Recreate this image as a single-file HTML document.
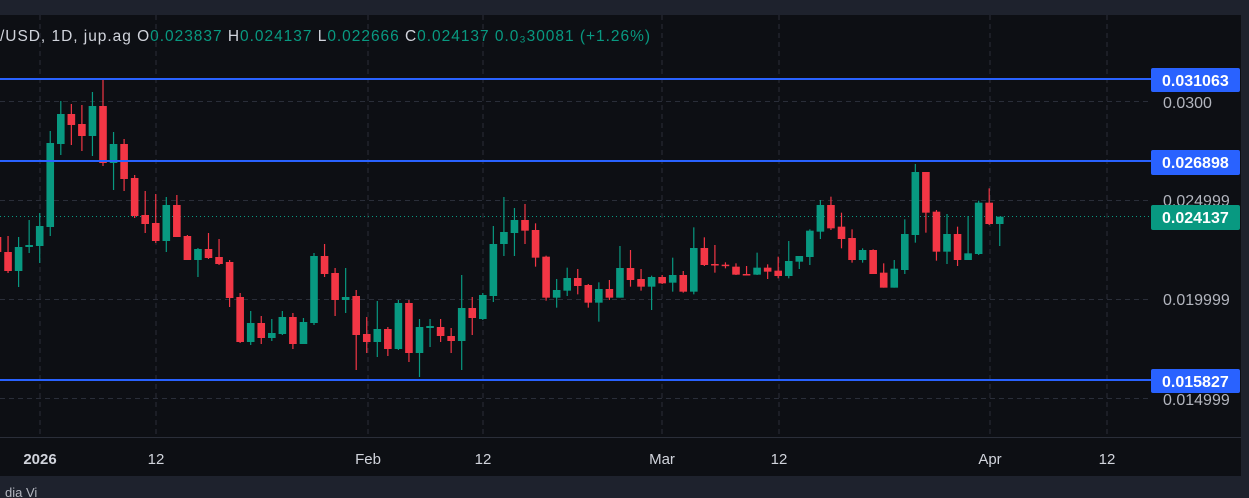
<!DOCTYPE html>
<html><head><meta charset="utf-8"><style>
html,body{margin:0;padding:0;background:#1e222d;width:1249px;height:498px;overflow:hidden}
svg{display:block;font-family:"Liberation Sans",sans-serif}
</style></head><body>
<svg id="c" width="1249" height="498" xmlns="http://www.w3.org/2000/svg">
<rect x="0" y="0" width="1249" height="498" fill="#1e222d"/>
<rect x="0" y="15" width="1241" height="461" fill="#0d0f14"/>
<line x1="0" y1="437.5" x2="1241" y2="437.5" stroke="#2a2e39"/>
<g stroke="#2a2e39" stroke-dasharray="5,4">
<line x1="40" y1="15" x2="40" y2="437"/><line x1="156" y1="15" x2="156" y2="437"/>
<line x1="368" y1="15" x2="368" y2="437"/><line x1="483" y1="15" x2="483" y2="437"/>
<line x1="662" y1="15" x2="662" y2="437"/><line x1="779" y1="15" x2="779" y2="437"/>
<line x1="990" y1="15" x2="990" y2="437"/><line x1="1107" y1="15" x2="1107" y2="437"/>
<line x1="0" y1="101.5" x2="1150" y2="101.5"/><line x1="0" y1="200.5" x2="1150" y2="200.5"/>
<line x1="0" y1="299.5" x2="1150" y2="299.5"/><line x1="0" y1="398.5" x2="1150" y2="398.5"/>
</g>
<line x1="0" y1="216.5" x2="1150" y2="216.5" stroke="#089981" stroke-dasharray="1,3"/>
<g id="cs"></g>
<g stroke="#2962ff" stroke-width="2">
<line x1="0" y1="79" x2="1151" y2="79"/><line x1="0" y1="161" x2="1151" y2="161"/><line x1="0" y1="380" x2="1151" y2="380"/>
</g>
<g font-size="16" fill="#b2b5be">
<text x="1163" y="108">0.0300</text><text x="1163" y="206">0.024999</text>
<text x="1163" y="305">0.019999</text><text x="1163" y="405">0.014999</text>
</g>
<rect x="1151" y="68" width="89" height="24" rx="2" fill="#2962ff"/>
<rect x="1151" y="150" width="89" height="25" rx="2" fill="#2962ff"/>
<rect x="1151" y="369" width="89" height="24" rx="2" fill="#2962ff"/>
<rect x="1151" y="205" width="89" height="25" rx="2" fill="#089981"/>
<g font-size="16" font-weight="bold" fill="#fff">
<text x="1162" y="86">0.031063</text><text x="1162" y="168">0.026898</text>
<text x="1162" y="223">0.024137</text><text x="1162" y="387">0.015827</text>
</g>
<g font-size="15" fill="#d1d4dc" text-anchor="middle">
<text x="40" y="464" font-weight="bold">2026</text><text x="156" y="464">12</text>
<text x="368" y="464">Feb</text><text x="483" y="464">12</text>
<text x="662" y="464">Mar</text><text x="779" y="464">12</text>
<text x="990" y="464">Apr</text><text x="1107" y="464">12</text>
</g>
<text x="0" y="41" font-size="15.5" fill="#d1d4dc" textLength="650" lengthAdjust="spacing">/USD, 1D, jup.ag  O<tspan fill="#089981">0.023837</tspan>  H<tspan fill="#089981">0.024137</tspan>  L<tspan fill="#089981">0.022666</tspan>  C<tspan fill="#089981">0.024137</tspan>  <tspan fill="#089981">0.0₃30081 (+1.26%)</tspan></text>
<text x="5" y="497" font-size="13" fill="#b2b5be">dia Vi</text>
</svg>
<script>
var A=[[237,252,235,254,'r'],
[252,271,236,273,'r'],[247,271,237,287,'g'],[245,247,220,253,'g'],[226,246,213,263,'g'],[143,227,131,236,'g'],
[114,144,101,155,'g'],[114,125,104,145,'r'],[124,136,105,151,'r'],[106,136,92,156,'g'],[106,163,80,166,'r'],
[144,163,132,190,'g'],[144,179,139,191,'r'],[178,216,175,218,'r'],[215,224,191,233,'r'],[223,241,194,243,'r'],
[205,241,197,252,'g'],[205,237,195,237,'r'],[236,260,235,260,'r'],[249,260,248,277,'g'],[249,258,233,259,'r'],
[257,264,239,265,'r'],[262,298,260,307,'r'],[297,342,293,343,'r'],[323,342,311,345,'g'],[323,338,316,344,'r'],
[333,338,319,341,'g'],[317,334,311,335,'g'],[317,344,313,349,'r'],[322,344,318,344,'g'],[256,323,253,325,'g'],
[256,274,244,277,'r'],[273,300,268,316,'r'],[297,300,268,313,'g'],[296,335,290,370,'r'],[334,342,317,353,'r'],
[329,342,301,357,'g'],[329,349,327,356,'r'],[303,349,300,350,'g'],[303,353,300,362,'r'],[327,353,319,377,'g'],
[326,328,319,347,'g'],[327,336,319,342,'r'],[336,341,328,353,'r'],[308,341,275,370,'g'],[308,318,297,335,'r'],
[295,319,293,320,'g'],[244,296,226,302,'g'],[232,244,197,256,'g'],[220,233,208,256,'g']];
var B=[[180,212,132,252,'r'],[210,293,190,320,'r'],[290,413,287,422,'r'],[390,413,357,443,'g'],[354,392,323,408,'g'],
[354,378,327,403,'r'],[375,428,372,443,'r'],[387,428,367,485,'g'],[387,413,360,420,'r'],[324,413,258,413,'g'],
[324,360,270,380,'r'],[357,380,327,392,'r'],[351,380,347,450,'g'],[351,370,345,372,'r'],[345,368,293,395,'g'],
[345,395,333,398,'r'],[264,395,202,403,'g'],[264,315,232,318,'r'],[312,315,255,338,'r'],[314,317,307,325,'r'],
[320,344,310,345,'r'],[342,345,318,345,'r'],[323,344,278,345,'g'],[323,335,313,357,'r'],[332,348,290,355,'r'],
[303,348,243,355,'g'],[288,305,288,327,'g'],[212,291,208,315,'g'],[135,215,120,237,'g'],[135,205,110,210,'r'],
[200,237,158,265,'r'],[234,300,208,308,'r'],[270,300,265,308,'g'],[270,342,268,342,'r'],[338,383,310,383,'r'],
[326,383,300,383,'g'],[222,330,178,342,'g'],[36,225,12,248,'g'],[36,158,36,218,'r'],[155,275,150,302,'r'],
[222,275,162,312,'g'],[222,300,200,318,'r'],[280,300,168,300,'g'],[128,282,122,285,'g'],[128,192,85,195,'r'],[170,192,170,258,'g']];
B.forEach(function(b){A.push([160+b[0]/3,160+b[1]/3,160+b[2]/3,160+b[3]/3,b[4]]);});
var s='';
A.forEach(function(c,i){var x=-2.5+i*10.55;var col=c[4]=='g'?'#089981':'#f23645';
var h=Math.max(1.5,c[1]-c[0]);
s+='<line x1="'+x+'" y1="'+c[2]+'" x2="'+x+'" y2="'+c[3]+'" stroke="'+col+'" stroke-width="1.2"/>';
s+='<rect x="'+(x-3.8)+'" y="'+c[0]+'" width="7.6" height="'+h+'" fill="'+col+'"/>';});
document.getElementById('cs').innerHTML=s;
</script>
</body></html>
